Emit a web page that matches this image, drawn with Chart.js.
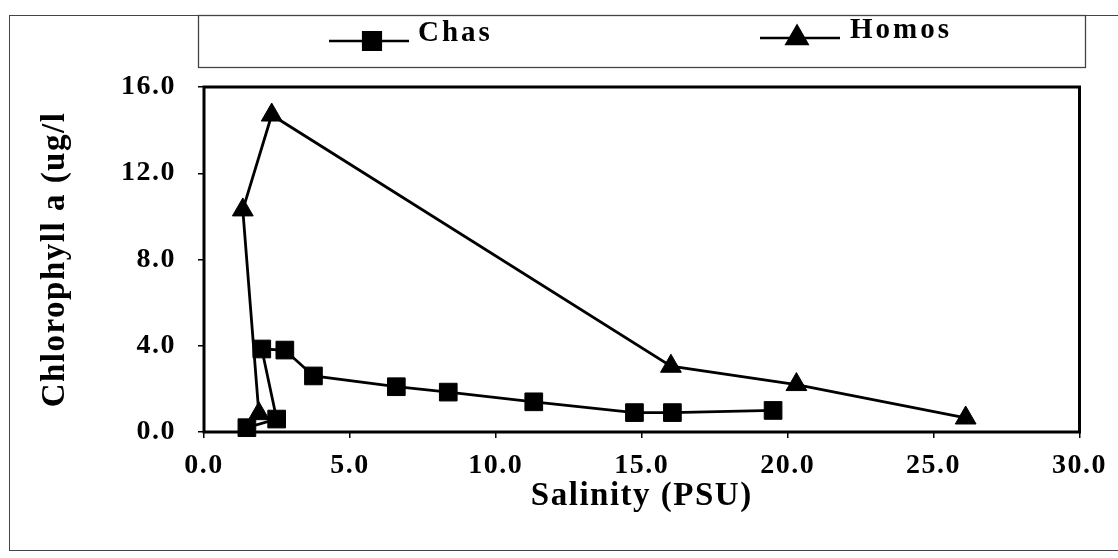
<!DOCTYPE html>
<html>
<head>
<meta charset="utf-8">
<script src="https://cdn.jsdelivr.net/npm/chart.js@4/dist/chart.umd.min.js"></script>
<style>
  html, body { margin: 0; padding: 0; background: #ffffff; }
  #wrap { width: 1118px; height: 558px; }
</style>
</head>
<body>
<div id="wrap"><canvas id="c" width="1118" height="558"></canvas></div>
<script>
// ---- Data ----
const seriesNames = ["Chas", "Homos"];
const chasSalinity = [19.5, 16.05, 14.75, 11.3, 8.37, 6.59, 3.75, 2.77, 1.98, 2.49, 1.47];
const chasChl      = [1.0,  0.9,   0.9,   1.4,  1.85, 2.1,  2.6,  3.8,  3.85, 0.6,  0.2];
const homosSalinity = [26.1, 20.3, 16.0, 2.32, 1.33, 1.88];
const homosChl      = [0.65, 2.2,  3.05, 14.7, 10.3, 0.85];
const xTickValues = [0, 5, 10, 15, 20, 25, 30];
const yTickValues = [0, 4, 8, 12, 16];
const xTitle = "Salinity (PSU)";
const yTitle = "Chlorophyll a (ug/l";

const toPoints = (xs, ys) => xs.map((x, i) => ({ x: x, y: ys[i] }));
const FONT = "'Liberation Serif', 'Times New Roman', serif";
const SP = '1.5px';

const spacingPlugin = {
  id: 'spacing',
  beforeUpdate(chart) { chart.ctx.letterSpacing = SP; },
  beforeLayout(chart) { chart.ctx.letterSpacing = SP; },
  beforeDraw(chart) { chart.ctx.letterSpacing = SP; }
};

const framePlugin = {
  id: 'frame',
  beforeDatasetsDraw(chart) {
    const { ctx, chartArea: a } = chart;
    ctx.save();
    ctx.strokeStyle = '#000';
    ctx.lineWidth = 3;
    ctx.strokeRect(a.left, a.top, a.right - a.left, a.bottom - a.top);
    ctx.restore();
  },
  afterDraw(chart) {
    const ctx = chart.ctx;
    ctx.save();
    // outer border
    ctx.strokeStyle = '#444';
    ctx.lineWidth = 1;
    ctx.strokeRect(9.5, 15.5, 1120, 535);
    // legend box
    ctx.lineWidth = 1.3;
    ctx.strokeRect(198.5, 15.5, 887, 52);
    // legend items
    const ds = chart.data.datasets;
    const items = [
      { x0: 329, x1: 409, mx: 372, y: 41, ty: 34, tx: 418, ds: ds[0] },
      { x0: 760, x1: 840, mx: 797, y: 38, ty: 31, tx: 850, ds: ds[1] }
    ];
    items.forEach(it => {
      ctx.strokeStyle = '#000';
      ctx.fillStyle = '#000';
      ctx.lineWidth = 2.5;
      ctx.beginPath();
      ctx.moveTo(it.x0, it.y);
      ctx.lineTo(it.x1, it.y);
      ctx.stroke();
      Chart.helpers.drawPoint(ctx, {
        pointStyle: it.ds.pointStyle,
        radius: it.ds.pointRadius,
        borderWidth: 1,
        rotation: 0
      }, it.mx, it.y);
      ctx.fill();
      ctx.letterSpacing = '3px';
      ctx.font = 'bold 29px ' + FONT;
      ctx.textBaseline = 'middle';
      ctx.textAlign = 'left';
      ctx.fillText(it.ds.label, it.tx, it.ty);
    });
    ctx.restore();
  }
};

new Chart(document.getElementById('c'), {
  type: 'scatter',
  data: {
    datasets: [
      {
        label: seriesNames[0],
        data: toPoints(chasSalinity, chasChl),
        showLine: true,
        borderColor: '#000',
        backgroundColor: '#000',
        borderWidth: 2.8,
        pointStyle: 'rect',
        pointRadius: 12.5,
        pointBorderWidth: 1,
        pointBackgroundColor: '#000',
        pointBorderColor: '#000',
        tension: 0,
        clip: false
      },
      {
        label: seriesNames[1],
        data: toPoints(homosSalinity, homosChl),
        showLine: true,
        borderColor: '#000',
        backgroundColor: '#000',
        borderWidth: 2.8,
        pointStyle: 'triangle',
        pointRadius: 12,
        pointBorderWidth: 1,
        pointBackgroundColor: '#000',
        pointBorderColor: '#000',
        tension: 0,
        clip: false
      }
    ]
  },
  options: {
    responsive: false,
    animation: false,
    events: [],
    layout: { padding: { left: 36, right: 35, top: 87, bottom: 40 } },
    plugins: { legend: { display: false }, tooltip: { enabled: false } },
    scales: {
      x: {
        type: 'linear',
        min: 0, max: 30,
        afterBuildTicks(axis) { axis.ticks = xTickValues.map(v => ({ value: v })); },
        afterFit(axis) { axis.height = 86; },
        border: { display: false },
        grid: { display: true, drawOnChartArea: false, drawTicks: true, tickLength: 6, color: '#000', lineWidth: 1.5 },
        ticks: {
          color: '#000',
          padding: 11,
          maxRotation: 0,
          font: { family: FONT, size: 28, weight: 'bold' },
          callback: v => Number(v).toFixed(1)
        },
        title: {
          display: true, text: xTitle, color: '#000',
          font: { family: FONT, size: 33, weight: 'bold' },
          padding: { top: 0, bottom: 2 }
        }
      },
      y: {
        type: 'linear',
        min: 0, max: 16,
        afterBuildTicks(axis) { axis.ticks = yTickValues.map(v => ({ value: v })); },
        afterFit(axis) { axis.width = 168; },
        border: { display: false },
        grid: { display: true, drawOnChartArea: false, drawTicks: true, tickLength: 6, color: '#000', lineWidth: 1.5 },
        ticks: {
          color: '#000',
          padding: 22,
          font: { family: FONT, size: 28, weight: 'bold' },
          callback: v => Number(v).toFixed(1)
        },
        title: {
          display: true, text: yTitle, color: '#000',
          font: { family: FONT, size: 33, weight: 'bold' },
          padding: { top: 0, bottom: 0 }
        }
      }
    }
  },
  plugins: [spacingPlugin, framePlugin]
});
</script>
</body>
</html>
